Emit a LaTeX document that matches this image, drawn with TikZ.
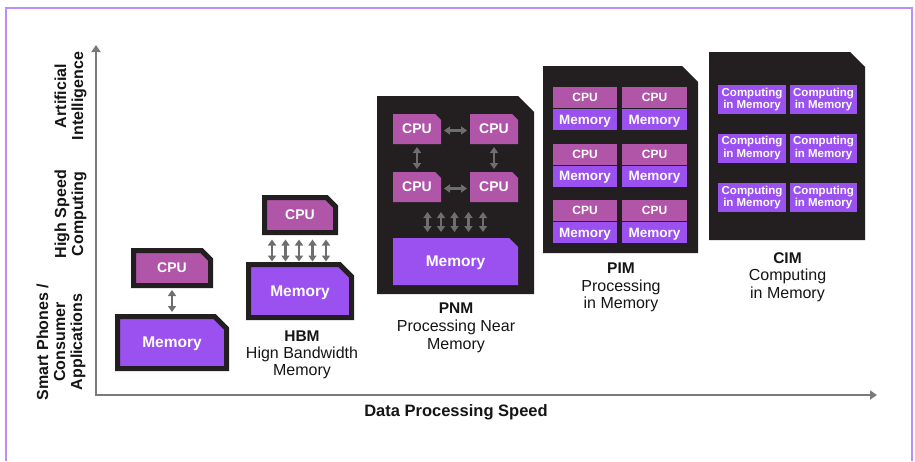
\documentclass[tikz,border=0pt]{standalone}
\usepackage{fontspec}
\setmainfont{Liberation Sans}
\usetikzlibrary{arrows.meta,backgrounds}

\definecolor{frameclr}{HTML}{BF8CF9}
\definecolor{memclr}{HTML}{9B50F0}
\definecolor{cpuclr}{HTML}{B055A8}
\definecolor{chipclr}{HTML}{231F20}
\definecolor{arrowclr}{HTML}{6E6E6E}
\definecolor{axisclr}{HTML}{7A7A7A}
\definecolor{txtclr}{HTML}{151515}

\newcommand{\setfs}[2]{\fontsize{#1}{#2}\selectfont}
% rectangle with its north-east corner cut off, following a node's border
\newcommand{\cutbox}[3]{%
  \path[#3] (#1.north west) -- ([xshift=-#2]#1.north east)
    -- ([yshift=-#2]#1.north east) -- (#1.south east) -- (#1.south west) -- cycle;}

\tikzset{
  geom/.style={inner sep=0pt, outer sep=0pt, text=white, text depth=0pt},
  bigcpu/.style={geom, font=\bfseries\setfs{14}{16}},
  bigmem/.style={geom, font=\bfseries\setfs{15.5}{17}},
  pimcpu/.style={geom, fill=cpuclr, minimum width=64.5pt, minimum height=21pt, font=\bfseries\setfs{12}{14}},
  pimmem/.style={geom, fill=memclr, minimum width=64.5pt, minimum height=21pt, font=\bfseries\setfs{13.5}{15}},
  cimcell/.style={inner sep=0pt, outer sep=0pt, text=white, fill=memclr, minimum width=67.5pt,
    minimum height=29pt, align=center, font=\bfseries\setfs{11.5}{12.5}},
  bordered/.style={draw=chipclr, line width=5pt, line join=miter},
  dbl/.style={draw=arrowclr, line width=2.2pt,
    {Triangle[width=8pt,length=6pt]}-{Triangle[width=8pt,length=6pt]}},
  axis/.style={draw=axisclr, line width=1.8pt,
    {Triangle[width=9pt,length=7pt]}-{Triangle[width=9pt,length=7pt]}},
  title/.style={anchor=base, inner sep=0pt, text=txtclr, font=\bfseries\setfs{15.5}{17}},
  sub/.style={anchor=base, inner sep=0pt, text=txtclr, font=\setfs{16}{18}},
  ylab/.style={anchor=base, rotate=90, inner sep=0pt, text=txtclr, font=\bfseries\setfs{16}{18}},
}

\begin{document}
\begin{tikzpicture}[x=1pt, y=-1pt]
\useasboundingbox (0,0) rectangle (915,461);

% outer frame
\draw[frameclr, line width=2pt] (6,461) -- (6,8) -- (912,8) -- (912,461);

% axes
\coordinate (origin) at (96,395);
\coordinate (ytip) at (96,45);
\coordinate (xtip) at (877,395);
\draw[axis] (ytip) -- (origin) -- (xtip);

\node[ylab] (ai1) at (66,96) {Artificial};
\node[ylab] (ai2) at (83,96) {Intelligence};
\node[ylab] (hs1) at (66,214) {High Speed};
\node[ylab] (hs2) at (83,214) {Computing};
\node[ylab] (sp1) at (48,342) {Smart Phones /};
\node[ylab] (sp2) at (65,342) {Consumer};
\node[ylab] (sp3) at (82,342) {Applications};
\node[anchor=base, inner sep=0pt, text=txtclr, font=\bfseries\setfs{16.5}{18}] (xlab) at (456,416) {Data Processing Speed};

% consumer: CPU above memory
\node[bigcpu, minimum width=77pt, minimum height=35pt] (c1) at (172,268) {CPU};
\node[bigmem, minimum width=109pt, minimum height=52pt] (m1) at (172,342.5) {Memory};
\draw[dbl, shorten <=4.5pt, shorten >=4.5pt] (c1.south) -- (m1.north);

% HBM
\node[bigcpu, minimum width=71pt, minimum height=35pt] (c2) at (300,215) {CPU};
\node[bigmem, minimum width=103pt, minimum height=53pt] (m2) at (300,291) {Memory};
\foreach \dx in {-28,-14.5,-1,12.5,26}
  \draw[dbl, shorten <=7pt, shorten >=3pt] ([xshift=\dx pt]c2.south) -- ([xshift=\dx pt]m2.north);
\node[title] (hbmT) at (302,341) {HBM};
\node[sub] (hbmA) at (302,358) {Hign Bandwidth};
\node[sub] (hbmB) at (302,375) {Memory};

% PNM
\node[geom, minimum width=157pt, minimum height=198pt] (p0) at (455.5,195) {};
\node[bigcpu, minimum width=48pt, minimum height=30pt] (pc1) at (417,129) {CPU};
\node[bigcpu, minimum width=48pt, minimum height=30pt] (pc2) at (494,129) {CPU};
\node[bigcpu, minimum width=48pt, minimum height=30pt] (pc3) at (417,187) {CPU};
\node[bigcpu, minimum width=48pt, minimum height=30pt] (pc4) at (494,187) {CPU};
\node[bigmem, minimum width=125pt, minimum height=47pt] (pm) at (455.5,261.5) {Memory};
\coordinate (pbus) at (455.5,202);
\draw[dbl, shorten <=3pt, shorten >=3pt] ([yshift=-1.5pt]pc1.east) -- ([yshift=-1.5pt]pc2.west);
\draw[dbl, shorten <=3pt, shorten >=3pt] ([yshift=-1.5pt]pc3.east) -- ([yshift=-1.5pt]pc4.west);
\draw[dbl, shorten <=3pt, shorten >=3pt] (pc1.south) -- (pc3.north);
\draw[dbl, shorten <=3pt, shorten >=3pt] (pc2.south) -- (pc4.north);
\foreach \dx in {-28,-14.5,-1,13,27.5}
  \draw[dbl, shorten <=10pt, shorten >=6pt] ([xshift=\dx pt]pbus) -- ([xshift=\dx pt]pm.north);
\node[title] (pnmT) at (456,313) {PNM};
\node[sub] (pnmA) at (456,331) {Processing Near};
\node[sub] (pnmB) at (456,349) {Memory};

% PIM
\node[geom, minimum width=155pt, minimum height=187pt] (q0) at (620.5,159.5) {};
\foreach \r/\t in {1/87,2/143.5,3/200}
  \foreach \c/\x in {1/585,2/654.5} {
    \node[pimcpu] (qc\r\c) at (\x,\t+10.5) {CPU};
    \node[pimmem] (qm\r\c) at (\x,\t+32.5) {Memory};
  }
\node[title] (pimT) at (621,273) {PIM};
\node[sub] (pimA) at (621,291) {Processing};
\node[sub] (pimB) at (621,308) {in Memory};

% CIM
\node[geom, minimum width=156pt, minimum height=188pt] (r0) at (787,146) {};
\foreach \r/\y in {1/99.5,2/148,3/197.5}
  \foreach \c/\x in {1/752,2/823.5}
    \node[cimcell] (rc\r\c) at (\x,\y) {Computing\\in Memory};
\node[title] (cimT) at (787.5,263) {CIM};
\node[sub] (cimA) at (787.5,280.5) {Computing};
\node[sub] (cimB) at (787.5,298) {in Memory};

% chamfered fills behind the labels
\begin{scope}[on background layer]
  \cutbox{p0}{16pt}{fill=chipclr}
  \cutbox{q0}{16pt}{fill=chipclr}
  \cutbox{r0}{15pt}{fill=chipclr}
  \cutbox{c1}{9pt}{fill=cpuclr, bordered}
  \cutbox{m1}{12pt}{fill=memclr, bordered}
  \cutbox{c2}{9pt}{fill=cpuclr, bordered}
  \cutbox{m2}{12pt}{fill=memclr, bordered}
  \cutbox{pc1}{6pt}{fill=cpuclr}
  \cutbox{pc2}{6pt}{fill=cpuclr}
  \cutbox{pc3}{6pt}{fill=cpuclr}
  \cutbox{pc4}{6pt}{fill=cpuclr}
  \cutbox{pm}{9pt}{fill=memclr}
\end{scope}
\end{tikzpicture}
\end{document}
